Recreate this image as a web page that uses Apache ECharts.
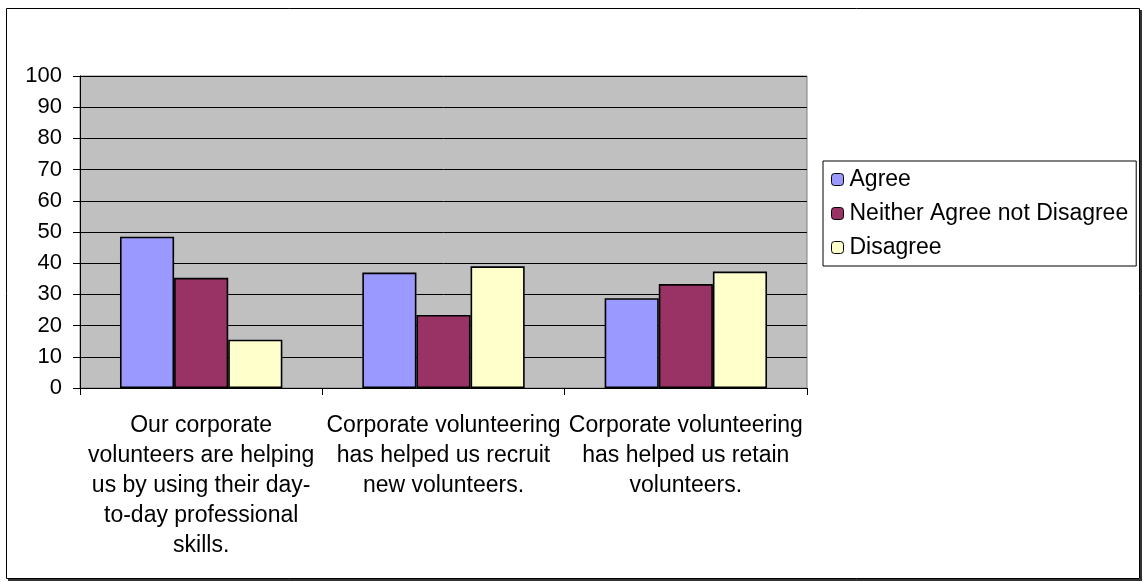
<!DOCTYPE html>
<html>
<head>
<meta charset="utf-8">
<script src="https://cdn.jsdelivr.net/npm/echarts@6/dist/echarts.min.js"></script>
<style>
html,body{margin:0;padding:0;background:#fff;}
#chart{width:1143px;height:582px;}
</style>
</head>
<body>
<div id="chart"></div>
<script>
const categories = [
  "Our corporate\nvolunteers are helping\nus by using their day-\nto-day professional\nskills.",
  "Corporate volunteering\nhas helped us recruit\nnew volunteers.",
  "Corporate volunteering\nhas helped us retain\nvolunteers."
];
const seriesNames = ["Agree", "Neither Agree not Disagree", "Disagree"];
const agree = [48.5, 37, 28.8];
const neither = [35.3, 23.4, 33.3];
const disagree = [15.5, 39, 37.3];
const yTicks = [0, 10, 20, 30, 40, 50, 60, 70, 80, 90, 100];

const colors = ["#9999FF", "#993366", "#FFFFCC"];
const font = "'Liberation Sans', Arial, sans-serif";
const chart = echarts.init(document.getElementById('chart'), null, {renderer: 'canvas'});

function bar(name, data, color) {
  return {
    name: name, type: 'bar', data: data,
    barGap: '0%', barCategoryGap: '33%',
    itemStyle: {color: color, borderColor: '#000', borderWidth: 1.6},
    emphasis: {disabled: true}
  };
}

chart.setOption({
  animation: false,
  textStyle: {fontFamily: font, color: '#000'},
  graphic: [
    {type: 'rect', shape: {x: 6.5, y: 8.5, width: 1133, height: 570},
     style: {fill: 'none', stroke: '#000', lineWidth: 1}, z: -10},
    {type: 'line', shape: {x1: 1141, y1: 10, x2: 1141, y2: 581},
     style: {stroke: '#333', lineWidth: 2}, z: -10},
    {type: 'line', shape: {x1: 8, y1: 580, x2: 1142, y2: 580},
     style: {stroke: '#333', lineWidth: 2}, z: -10}
  ],
  grid: {
    left: 80, top: 76, right: 336, bottom: 194,
    show: true, backgroundColor: '#C0C0C0', borderColor: '#808080', borderWidth: 1
  },
  legend: {
    orient: 'vertical',
    left: 823, top: 161,
    padding: [7, 8, 7, 8],
    itemGap: 11,
    itemWidth: 12, itemHeight: 12,
    itemStyle: {borderColor: '#000', borderWidth: 1},
    backgroundColor: '#fff',
    borderColor: '#000', borderWidth: 1,
    textStyle: {fontFamily: font, fontSize: 23, color: '#000', padding: [0, 0, 0, 1]},
    data: seriesNames
  },
  xAxis: {
    type: 'category',
    data: categories,
    axisLine: {lineStyle: {color: '#000', width: 1}},
    axisTick: {show: true, length: 7, lineStyle: {color: '#000'}},
    axisLabel: {interval: 0, fontFamily: font, fontSize: 23, lineHeight: 30, color: '#000', margin: 23, align: 'center'}
  },
  yAxis: {
    type: 'value',
    min: yTicks[0], max: yTicks[yTicks.length - 1], interval: yTicks[1] - yTicks[0],
    axisLine: {show: true, lineStyle: {color: '#000', width: 1}},
    axisTick: {show: true, length: 7, lineStyle: {color: '#000'}},
    axisLabel: {fontFamily: font, fontSize: 22, color: '#000', margin: 18},
    splitLine: {show: true, lineStyle: {color: '#000', width: 1}}
  },
  series: [
    bar(seriesNames[0], agree, colors[0]),
    bar(seriesNames[1], neither, colors[1]),
    bar(seriesNames[2], disagree, colors[2])
  ]
});
</script>
</body>
</html>
